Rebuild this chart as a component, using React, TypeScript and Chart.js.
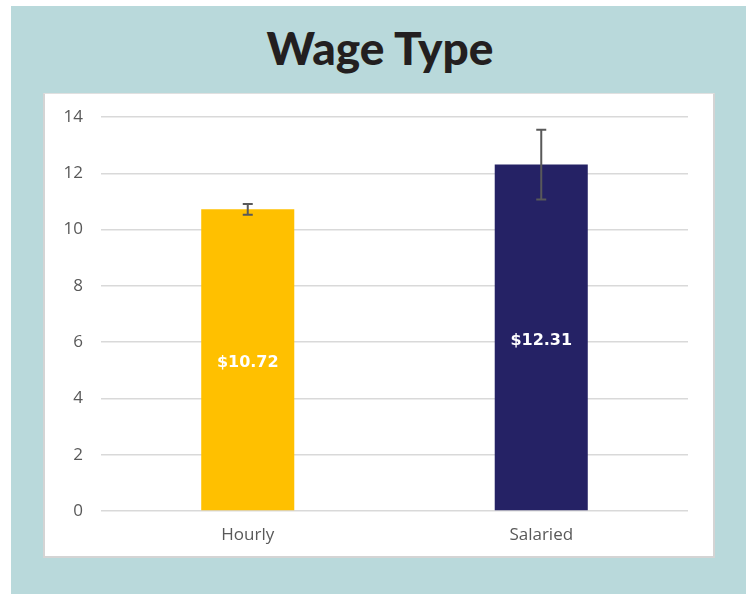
import React, { useEffect, useRef } from "react";
import { Chart, registerables } from "chart.js";

Chart.register(...registerables);

const categories = ["Hourly", "Salaried"];
const values = [10.72, 12.31];
const errors = [0.19, 1.24];
const valueLabels = ["$10.72", "$12.31"];
const barColors = ["#ffc000", "#252265"];
const yMin = 0;
const yMax = 14;
const yStep = 2;
const title = "Wage Type";

const errorBarPlugin = {
  id: "errorBars",
  afterDatasetsDraw(chart: any) {
    const meta = chart.getDatasetMeta(0);
    const yScale = chart.scales.y;
    const ctx = chart.ctx;
    ctx.save();
    ctx.strokeStyle = "#595959";
    ctx.lineWidth = 2;
    meta.data.forEach((bar: any, i: number) => {
      const x = bar.x;
      const top = yScale.getPixelForValue(values[i] + errors[i]);
      const bot = yScale.getPixelForValue(values[i] - errors[i]);
      const cap = 5;
      ctx.beginPath();
      ctx.moveTo(x, top);
      ctx.lineTo(x, bot);
      ctx.moveTo(x - cap, top);
      ctx.lineTo(x + cap, top);
      ctx.moveTo(x - cap, bot);
      ctx.lineTo(x + cap, bot);
      ctx.stroke();
    });
    // value labels
    ctx.fillStyle = "#ffffff";
    ctx.font = "bold 16px 'DejaVu Sans', Verdana, sans-serif";
    ctx.textAlign = "center";
    ctx.textBaseline = "middle";
    meta.data.forEach((bar: any, i: number) => {
      ctx.fillText(valueLabels[i], bar.x, (bar.y + bar.base) / 2 + 3);
    });
    ctx.restore();
  },
};

export default function App() {
  const ref = useRef<HTMLCanvasElement | null>(null);
  useEffect(() => {
    if (!ref.current) return;
    const chart = new Chart(ref.current, {
      type: "bar",
      data: {
        labels: categories,
        datasets: [
          {
            data: values,
            backgroundColor: barColors,
            borderWidth: 0,
            categoryPercentage: 1,
            barPercentage: 0.317,
          },
        ],
      },
      options: {
        animation: false,
        responsive: false,
        devicePixelRatio: 1,
        layout: { padding: { left: 45, right: 58, top: 117, bottom: 43 } },
        plugins: {
          legend: { display: false },
          tooltip: { enabled: false },
          title: { display: false },
        },
        scales: {
          x: {
            grid: { display: false, drawTicks: false },
            border: { display: false },
            ticks: {
              color: "#595959",
              font: { family: "'Open Sans', sans-serif", size: 17 },
              padding: 14,
            },
            afterFit: (s: any) => {
              s.height = 40;
            },
          },
          y: {
            min: yMin,
            max: yMax,
            grid: { color: "#d9d9d9", lineWidth: 1.5, drawTicks: false },
            border: { display: false },
            ticks: {
              stepSize: yStep,
              color: "#595959",
              font: { family: "'Open Sans', sans-serif", size: 17 },
              padding: 18,
            },
            afterFit: (s: any) => {
              s.width = 56;
            },
          },
        },
      },
      plugins: [errorBarPlugin],
    });
    return () => chart.destroy();
  }, []);

  return (
    <div style={{ position: "absolute", left: 0, top: 0, width: 746, height: 594, background: "#ffffff", overflow: "hidden" }}>
      <div style={{ position: "absolute", left: 11, top: 6, width: 735, height: 588, background: "#b9d9db" }} />
      <div
        style={{
          position: "absolute",
          left: 43,
          top: 93,
          width: 668,
          height: 462,
          background: "#ffffff",
          borderLeft: "2px solid #d4d4d4",
          borderRight: "2px solid #d4d4d4",
          borderBottom: "2px solid #d4d4d4",
          borderTop: "1px solid #e0e0e0",
        }}
      />
      <div
        style={{
          position: "absolute",
          left: 11,
          top: 25,
          width: 738,
          textAlign: "center",
          fontFamily: "Lato, sans-serif",
          fontWeight: 900,
          fontSize: 46,
          lineHeight: "46px",
          color: "#231f20",
        }}
      >
        {title}
      </div>
      <canvas ref={ref} width={746} height={594} style={{ position: "absolute", left: 0, top: 0, width: 746, height: 594 }} />
    </div>
  );
}
